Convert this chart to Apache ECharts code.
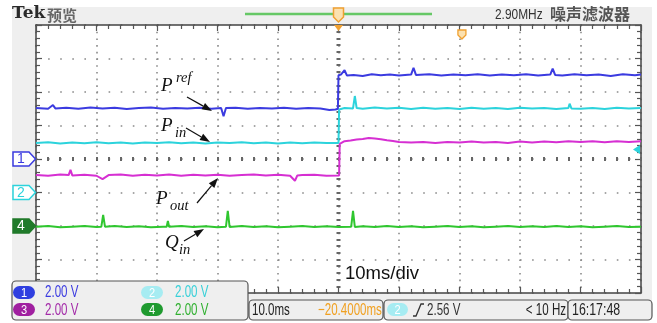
<!DOCTYPE html>
<html><head><meta charset="utf-8">
<script src="https://cdn.jsdelivr.net/npm/echarts@6/dist/echarts.min.js"></script>
<style>html,body{margin:0;padding:0;background:#fff}#c{width:657px;height:323px}</style>
</head><body><div id="c"></div>
<script>
// ---- data (time in ms, 10 ms/div; values in volts, 2.00 V/div) ----
const timeRangeMs = [-50, 50];
const timeDivMs = 10;
const channelNames = ['1', '2', '3', '4'];
const voltsPerDiv = [2, 2, 2, 2];
const offsetDiv = [0, -1, -2, -2];
const triggerLevelV = 2.56;
const timeDivLabel = '10ms/div';

const ch1Pref = [[-50,3.04],[-48,3.0],[-47.2,3.22],[-46.8,3.02],[-45,3.06],[-43,3.0],[-41,3.08],[-39,3.02],[-37,3.06],[-35,2.98],[-33,3.04],[-31,3.08],[-29,3.0],[-27,3.05],[-25,3.02],[-23,3.06],[-21,3.0],[-19.4,3.04],[-19,2.55],[-18.6,3.04],[-17,3.06],[-15,3.0],[-13,3.05],[-11,3.02],[-9,3.06],[-7,3.0],[-5,3.04],[-3,3.02],[-1.5,2.92],[-0.5,2.96],[-0.1,3.0],[0,5.0],[0.4,5.04],[1,5.3],[1.4,4.98],[2.5,5.02],[4,4.96],[5.5,5.06],[7,5.0],[8.5,5.04],[10,4.98],[12,5.04],[12.4,5.45],[12.8,5.02],[15,5.06],[17,4.98],[19,5.04],[21,5.0],[23,5.06],[25,4.98],[27,5.04],[29,5.0],[31,5.06],[33,4.98],[35,5.04],[35.4,5.4],[35.8,5.02],[37,4.98],[39,5.06],[41,5.0],[43,5.04],[45,4.96],[47,5.06],[49,5.0],[50,5.04]];
const ch2Pin = [[-50,2.96],[-48,3.0],[-46,2.92],[-44,2.98],[-42,2.94],[-40,3.0],[-38,2.94],[-36,2.98],[-34,2.92],[-32,2.98],[-30,2.96],[-28,3.0],[-26,2.94],[-24,2.98],[-22,2.92],[-20,2.98],[-18,2.96],[-16,3.0],[-14,2.94],[-12,2.98],[-10,2.92],[-8,2.98],[-6,2.94],[-4,2.98],[-2,2.96],[0,2.96],[0.1,4.96],[1,5.04],[2.4,5.02],[2.7,5.76],[3.0,5.04],[4,5.0],[6,5.08],[8,5.02],[10,5.06],[12,4.98],[14,5.06],[16,5.0],[18,5.04],[20,4.98],[22,5.06],[24,5.0],[26,5.04],[28,4.98],[30,5.06],[32,5.02],[34,5.04],[36,4.98],[38,5.04],[38.2,5.3],[38.5,5.02],[40,5.0],[42,5.04],[44,4.98],[46,5.06],[48,5.02],[50,5.04]];
const ch3Pout = [[-50,3.04],[-48,3.0],[-46,3.08],[-44.6,3.04],[-44.3,3.35],[-44,3.02],[-42,3.06],[-40,3.0],[-39,2.8],[-38,3.04],[-36,3.08],[-34,3.0],[-32,3.06],[-30,3.02],[-28,3.08],[-26,3.0],[-24,3.06],[-22,3.02],[-20,3.06],[-18,3.0],[-16,3.04],[-14,3.08],[-12,3.02],[-10,3.06],[-8,3.0],[-7.2,2.7],[-6.8,3.02],[-6,3.04],[-4,3.06],[-2,3.0],[0.1,3.02],[0.2,4.9],[1,5.06],[2,5.1],[3,5.16],[4,5.2],[5,5.26],[6,5.22],[7,5.18],[8,5.12],[9,5.08],[10,5.02],[12,4.98],[14,5.02],[16,4.96],[18,5.02],[20,4.98],[22,5.04],[24,4.98],[26,5.02],[28,4.96],[30,5.04],[32,4.98],[34,5.04],[36,5.0],[38,5.06],[40,5.02],[42,5.06],[44,5.0],[46,5.06],[48,5.02],[50,5.06]];
const ch4Qin = [[-50,-0.04],[-48,0.0],[-46,-0.08],[-44,-0.04],[-42,0.0],[-40,-0.06],[-39.2,-0.04],[-38.9,0.66],[-38.6,-0.04],[-37,0.0],[-35,-0.06],[-33,-0.02],[-31,-0.08],[-29,-0.04],[-28.4,-0.04],[-28.2,0.3],[-28,-0.04],[-26,0.0],[-24,-0.06],[-22,-0.02],[-20,-0.08],[-18.6,-0.04],[-18.3,0.9],[-18.0,-0.06],[-16,0.0],[-14,-0.06],[-12,-0.02],[-10,-0.08],[-8,-0.04],[-6,0.0],[-4,-0.06],[-2,-0.02],[0,-0.06],[2.1,-0.04],[2.4,0.9],[2.7,-0.06],[4,-0.02],[6,-0.06],[8,0.0],[10,-0.06],[12,-0.02],[14,-0.08],[16,-0.04],[18,0.0],[20,-0.06],[22,-0.02],[24,-0.08],[26,-0.04],[28,0.0],[30,-0.06],[32,-0.02],[34,-0.06],[36,0.0],[38,-0.06],[40,-0.02],[42,-0.08],[44,-0.04],[46,0.0],[48,-0.06],[50,-0.04]];

const traceLabels = [
  {main:'P', script:'ref'},
  {main:'P', script:'in'},
  {main:'P', script:'out'},
  {main:'Q', script:'in'}
];
const statusTexts = ['2.00 V','2.00 V','2.00 V','2.00 V'];
const headerLeft = ['Tek', '预览'];
const headerRight = ['2.90MHz', '噪声滤波器'];
const bottomTexts = ['10.0ms', '\u221220.4000ms', '2.56 V', '< 10 Hz', '16:17:48'];

// ---- styling ----
const colors = ['#3b3be0', '#2cd3dc', '#d62fd2', '#2fc62f'];
const badgeColors = ['#2f3fe0', '#a6ecf2', '#a01fa0', '#1f9a2f'];
const textColors = ['#3a3ae0', '#38d0d8', '#a32aa8', '#30b030'];
const G = {left:36, top:25, width:605, height:268};
const sans = "'Liberation Sans',Arial,sans-serif";
const NARROW = 0.7;

function chAxis(i){
  return {type:'value', show:false, min:(-4 - offsetDiv[i]) * voltsPerDiv[i], max:(4 - offsetDiv[i]) * voltsPerDiv[i]};
}
const tickCol = '#555';
const chart = echarts.init(document.getElementById('c'), null, {renderer:'canvas'});
chart.setOption({
  animation:false,
  backgroundColor:'#ffffff',
  grid:{left:G.left, top:G.top, width:G.width, height:G.height, show:true, backgroundColor:'#ffffff', borderWidth:0},
  xAxis:[
    {type:'value', position:'bottom', min:timeRangeMs[0], max:timeRangeMs[1], interval:timeDivMs,
     axisLine:{show:true, onZero:false, lineStyle:{color:'#444', width:1.5}},
     axisTick:{show:true, inside:true, length:6, lineStyle:{color:tickCol, width:1.2}},
     minorTick:{show:true, splitNumber:5, length:4, lineStyle:{color:tickCol, width:1.2}},
     axisLabel:{show:false},
     splitLine:{show:true, lineStyle:{color:'#8a8a8a', width:1.6, type:[1.6,5.1]}}},
    {type:'value', position:'top', min:timeRangeMs[0], max:timeRangeMs[1], interval:timeDivMs,
     axisLine:{show:true, onZero:false, lineStyle:{color:'#444', width:1.5}},
     axisTick:{show:true, inside:true, length:6, lineStyle:{color:tickCol, width:1.2}},
     minorTick:{show:true, splitNumber:5, length:4, lineStyle:{color:tickCol, width:1.2}},
     axisLabel:{show:false}, splitLine:{show:false}},
    {type:'value', position:'bottom', offset:-136, min:timeRangeMs[0], max:timeRangeMs[1], interval:timeDivMs,
     axisLine:{show:false, onZero:false},
     axisTick:{show:true, inside:false, length:4, lineStyle:{color:'#666', width:2}},
     minorTick:{show:true, splitNumber:5, length:4, lineStyle:{color:'#666', width:2}},
     axisLabel:{show:false}, splitLine:{show:false}}
  ],
  yAxis:[
    {type:'value', position:'left', min:-4, max:4, interval:1,
     axisLine:{show:true, onZero:false, lineStyle:{color:'#444', width:1.5}},
     axisTick:{show:true, inside:true, length:6, lineStyle:{color:tickCol, width:1.2}},
     minorTick:{show:true, splitNumber:5, length:4, lineStyle:{color:tickCol, width:1.2}},
     axisLabel:{show:false},
     splitLine:{show:true, lineStyle:{color:'#8a8a8a', width:1.6, type:[1.6,10.5]}}},
    {type:'value', position:'right', min:-4, max:4, interval:1,
     axisLine:{show:true, onZero:false, lineStyle:{color:'#444', width:1.5}},
     axisTick:{show:true, inside:true, length:6, lineStyle:{color:tickCol, width:1.2}},
     minorTick:{show:true, splitNumber:5, length:4, lineStyle:{color:tickCol, width:1.2}},
     axisLabel:{show:false}, splitLine:{show:false}},
    {type:'value', position:'left', offset:-304.5, min:-4, max:4, interval:1,
     axisLine:{show:false, onZero:false},
     axisTick:{show:true, inside:false, length:4, lineStyle:{color:'#666', width:2}},
     minorTick:{show:true, splitNumber:5, length:4, lineStyle:{color:'#666', width:2}},
     axisLabel:{show:false}, splitLine:{show:false}},
    chAxis(0), chAxis(1), chAxis(2), chAxis(3)
  ],
  series:[
    {name:'Qin', type:'line', xAxisIndex:0, yAxisIndex:6, data:ch4Qin, showSymbol:false, lineStyle:{color:colors[3], width:2}, z:3},
    {name:'Pout', type:'line', xAxisIndex:0, yAxisIndex:5, data:ch3Pout, showSymbol:false, lineStyle:{color:colors[2], width:2}, z:4},
    {name:'Pin', type:'line', xAxisIndex:0, yAxisIndex:4, data:ch2Pin, showSymbol:false, lineStyle:{color:colors[1], width:2}, z:5},
    {name:'Pref', type:'line', xAxisIndex:0, yAxisIndex:3, data:ch1Pref, showSymbol:false, lineStyle:{color:colors[0], width:2}, z:6}
  ]
});

// ---- decorations ----
const gr = [];
gr.push({type:'rect', z:-10, silent:true, shape:{x:12, y:7, width:640, height:313}, style:{fill:'#efefef'}});
function txt(x, y, s, o){
  o = o || {};
  gr.push({type:'text', z:o.z || 50, x:x, y:y, scaleX:o.sx || 1, originX:0, originY:0,
    style:{text:s, fill:o.fill || '#333', font:o.font || ('16px ' + sans), align:o.align || 'left', verticalAlign:o.va || 'middle'}});
}
function rrect(x, y, w, h, r, fill, stroke, z){
  gr.push({type:'rect', z:z || 40, shape:{x:x, y:y, width:w, height:h, r:r}, style:{fill:fill, stroke:stroke || null, lineWidth:1.2}});
}
// header
txt(12, 14, headerLeft[0], {font:"bold 17px 'DejaVu Serif',serif", fill:'#2a2a2a'});
txt(47, 15, headerLeft[1], {font:"bold 15px 'Noto Sans CJK SC',sans-serif", fill:'#666'});
txt(495, 15, headerRight[0], {font:'14px ' + sans, fill:'#333', sx:0.85});
txt(550, 14, headerRight[1], {font:"bold 16px 'Noto Sans CJK SC',sans-serif", fill:'#555'});
gr.push({type:'line', z:20, shape:{x1:245, y1:14, x2:432, y2:14}, style:{stroke:'#66c866', lineWidth:2.5}});

// trigger position markers
const xc = chart.convertToPixel({xAxisIndex:0}, 0);
gr.push({type:'polygon', z:30, shape:{points:[[xc-5,8],[xc+5,8],[xc+5,17],[xc,22],[xc-5,17]]}, style:{fill:'#fbe1b0', stroke:'#f0a030', lineWidth:1.5}});
gr.push({type:'polygon', z:30, shape:{points:[[xc-4.5,25],[xc+4.5,25],[xc,31]]}, style:{fill:'#f0a030'}});
const xe = chart.convertToPixel({xAxisIndex:0}, 20.4);
gr.push({type:'polygon', z:30, shape:{points:[[xe-4,30],[xe+4,30],[xe+4,35],[xe,39],[xe-4,35]]}, style:{fill:'#fbe1b0', stroke:'#f0a030', lineWidth:1.3}});

// channel markers on the left
[0,1,3].forEach(function(i){
  const y = chart.convertToPixel({yAxisIndex:0}, offsetDiv[i]);
  const filled = (i === 3);
  const c = (i === 3) ? '#207a2a' : colors[i];
  gr.push({type:'polygon', z:30, shape:{points:[[13,y-7],[29,y-7],[35.5,y],[29,y+7],[13,y+7]]}, style:{fill: filled ? c : '#ffffff', stroke:c, lineWidth:1.5}});
  txt(21, y + 0.5, channelNames[i], {font:'14px ' + sans, fill: filled ? '#ffffff' : c, align:'center'});
});
// trigger level marker on the right
{
  const yt = chart.convertToPixel({yAxisIndex:4}, triggerLevelV);
  const xr = G.left + G.width;
  gr.push({type:'polygon', z:30, shape:{points:[[xr-8,yt],[xr-1,yt-4.5],[xr-1,yt+4.5]]}, style:{fill:'#2cd3dc'}});
}

// 10ms/div
txt(345, 274, timeDivLabel, {font:"18.5px " + sans, fill:'#111'});

// annotations
function arrow(x1, y1, x2, y2){
  const a = Math.atan2(y2 - y1, x2 - x1), L = 10, W = 3.6;
  const bx = x2 - L * Math.cos(a), by = y2 - L * Math.sin(a);
  gr.push({type:'line', z:60, shape:{x1:x1, y1:y1, x2:bx, y2:by}, style:{stroke:'#111', lineWidth:1.2}});
  gr.push({type:'polygon', z:60, shape:{points:[[x2,y2],[bx - W*Math.sin(a), by + W*Math.cos(a)],[bx + W*Math.sin(a), by - W*Math.cos(a)]]}, style:{fill:'#111'}});
}
const serif = "italic 19px 'Liberation Serif','DejaVu Serif',serif";
const serifS = "italic 14.5px 'Liberation Serif','DejaVu Serif',serif";
const annPos = [
  {x:161, y:86, sx:176, sy:78, a:[187,97,212,111]},
  {x:161, y:126, sx:175, sy:133, a:[186,128,210,142]},
  {x:156, y:199, sx:170, sy:206, a:[197,203,218,178]},
  {x:165, y:243, sx:179, sy:250, a:[184,241,204,229]}
];
traceLabels.forEach(function(l, i){
  const p = annPos[i];
  txt(p.x, p.y, l.main, {font:serif, fill:'#111', z:61});
  txt(p.sx, p.sy, l.script, {font:serifS, fill:'#111', z:61});
  arrow.apply(null, p.a);
});

// bottom status boxes
rrect(12, 281, 236, 39, 4, '#efefef', '#555');
const badgePos = [[13,286],[141,286],[13,303],[141,303]];
const valPos = [[45,292],[175,292],[45,310],[175,310]];
for (let i = 0; i < 4; i++){
  rrect(badgePos[i][0], badgePos[i][1], 22, 13, 6.5, badgeColors[i], null, 41);
  txt(badgePos[i][0] + 11, badgePos[i][1] + 7, channelNames[i], {font:'13px ' + sans, fill:'#ffffff', align:'center', z:42, sx:0.85});
  txt(valPos[i][0], valPos[i][1], statusTexts[i], {font:'16.5px ' + sans, fill:textColors[i], sx:NARROW});
}
rrect(249, 300, 134, 20, 4, '#efefef', '#555');
txt(252, 310.5, bottomTexts[0], {font:'16.5px ' + sans, fill:'#222', sx:NARROW});
txt(318, 310.5, bottomTexts[1], {font:'16.5px ' + sans, fill:'#f0a020', sx:NARROW});
rrect(384, 300, 184, 20, 4, '#efefef', '#555');
rrect(387, 303, 21, 13, 6.5, badgeColors[1], null, 41);
txt(397.5, 310, channelNames[1], {font:'13px ' + sans, fill:'#ffffff', align:'center', z:42, sx:0.85});
gr.push({type:'polyline', z:45, shape:{points:[[413,316],[416,316],[421,304],[424,304]]}, style:{stroke:'#333', lineWidth:1.3, fill:null}});
txt(427, 310.5, bottomTexts[2], {font:'16.5px ' + sans, fill:'#333', sx:NARROW});
txt(566, 310.5, bottomTexts[3], {font:'16.5px ' + sans, fill:'#222', align:'right', sx:NARROW});
rrect(568, 300, 84, 20, 4, '#efefef', '#555');
txt(572, 310.5, bottomTexts[4], {font:'16.5px ' + sans, fill:'#222', sx:0.75});

chart.setOption({graphic:{elements:gr}});
</script>
</body></html>
